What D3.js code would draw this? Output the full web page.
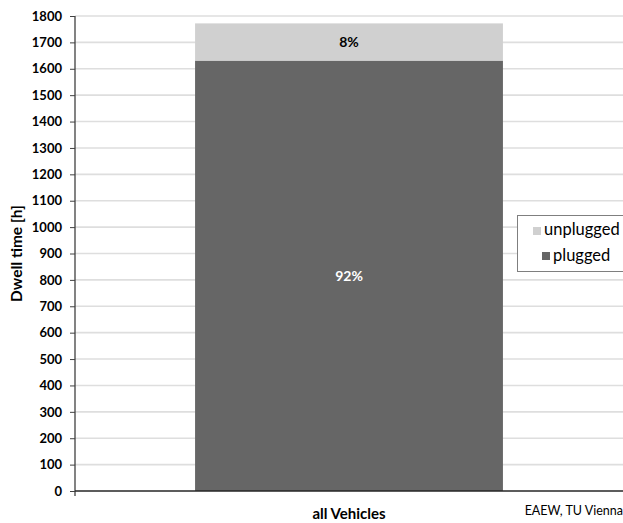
<!DOCTYPE html>
<html><head><meta charset="utf-8">
<script src="https://cdn.jsdelivr.net/npm/d3@7"></script>
<style>body{margin:0;background:#fff}svg{display:block}</style>
</head><body>
<svg id="c" width="623" height="523"></svg>
<script>
const categories = ["all Vehicles"];
const seriesNames = ["plugged", "unplugged"];
const plugged = [1631];
const unplugged = [141];
const percentLabels = {plugged: ["92%"], unplugged: ["8%"]};
const yTicks = d3.range(0, 1801, 100);

const colors = {plugged: "#666666", unplugged: "#d0d0d0"};
const font = "Lato, 'Open Sans', sans-serif";
const svg = d3.select("#c");
const m = {l: 75, r: 0, t: 16, b: 32};
const W = 623, H = 523;
const y = d3.scaleLinear().domain([0, 1800]).range([H - m.b, m.t]);
const x = d3.scaleBand().domain(categories).range([m.l, W - m.r]).paddingInner(0).paddingOuter(0.39);

// gridlines
svg.append("g").selectAll("line").data(yTicks.filter(d => d > 0)).join("line")
  .attr("x1", m.l).attr("x2", W).attr("y1", d => y(d)).attr("y2", d => y(d))
  .attr("stroke", "#dedede").attr("stroke-width", 1.6);

const data = categories.map((c, i) => ({cat: c, plugged: plugged[i], unplugged: unplugged[i]}));
const stack = d3.stack().keys(seriesNames)(data);
const g = svg.append("g");
stack.forEach(s => {
  g.selectAll(null).data(s).join("rect")
    .attr("x", d => x(d.data.cat)).attr("width", x.bandwidth())
    .attr("y", d => y(d[1])).attr("height", d => y(d[0]) - y(d[1]))
    .attr("fill", colors[s.key]);
  g.selectAll(null).data(s).join("text")
    .attr("x", d => x(d.data.cat) + x.bandwidth() / 2)
    .attr("y", d => (y(d[0]) + y(d[1])) / 2 + 5)
    .attr("text-anchor", "middle").attr("font-family", font).attr("font-weight", "bold")
    .attr("font-size", 14).attr("fill", s.key === "plugged" ? "#ffffff" : "#000000")
    .text((d, i) => percentLabels[s.key][i]);
});

// y axis
const ya = svg.append("g").attr("transform", `translate(${m.l},0)`)
  .call(d3.axisLeft(y).tickValues(yTicks).tickFormat(d3.format("d")).tickSize(5).tickPadding(8));
ya.select(".domain").attr("stroke", "#404040").attr("stroke-width", 1.3)
  .attr("d", `M0,${y(1800)}V${y(0) + 5}`);
ya.selectAll(".tick line").attr("stroke", "#404040");
ya.selectAll("text").attr("font-family", font).attr("font-weight", "bold").attr("font-size", 13).attr("fill", "#000");

// x axis
const xa = svg.append("g").attr("transform", `translate(0,${y(0)})`)
  .call(d3.axisBottom(x).tickSize(0).tickPadding(17));
xa.select(".domain").attr("stroke", "#262626").attr("stroke-width", 1.6).attr("d", `M${m.l},0H${W}`);
xa.selectAll("text").attr("font-family", font).attr("font-weight", "bold").attr("font-size", 15).attr("fill", "#000");

// y label
svg.append("text").attr("transform", `translate(22,${(y(0) + y(1800)) / 2}) rotate(-90)`)
  .attr("text-anchor", "middle").attr("font-family", font).attr("font-weight", "bold")
  .attr("font-size", 15.5).text("Dwell time [h]");

// legend
const lg = svg.append("g").attr("transform", "translate(517,215)");
lg.append("rect").attr("x", 0.5).attr("y", 0.5).attr("width", 115).attr("height", 56)
  .attr("fill", "#fff").attr("stroke", "#7f7f7f");
const legendItems = [
  {k: "unplugged", sx: 16, ty: 20, sy: 12},
  {k: "plugged", sx: 25, ty: 46, sy: 37}
];
legendItems.forEach(it => {
  lg.append("rect").attr("x", it.sx).attr("y", it.sy).attr("width", 8).attr("height", 8).attr("fill", colors[it.k]);
  lg.append("text").attr("x", it.sx + 11).attr("y", it.ty).attr("font-family", font)
    .attr("font-size", 16.5).attr("fill", "#000").text(it.k);
});

svg.append("text").attr("x", 623).attr("y", 515).attr("text-anchor", "end")
  .attr("font-family", font).attr("font-size", 12.5).attr("fill", "#000").text("EAEW, TU Vienna");
</script>
</body></html>
